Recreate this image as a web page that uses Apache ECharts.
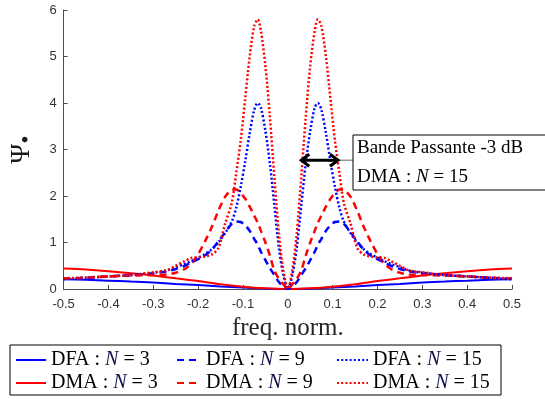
<!DOCTYPE html>
<html>
<head>
<meta charset="utf-8">
<script src="https://cdn.jsdelivr.net/npm/echarts@6/dist/echarts.min.js"></script>
<style>
  html, body { margin: 0; padding: 0; background: #fff; }
  #chart { width: 545px; height: 399px; }
</style>
</head>
<body>
<div id="chart"></div>
<script>
// positive half of the (symmetric) spectra
const freq = [0, 0.01, 0.02, 0.03, 0.04, 0.05, 0.06, 0.067, 0.075, 0.085, 0.095, 0.105, 0.115, 0.125,
  0.14, 0.155, 0.17, 0.185, 0.2, 0.215, 0.23, 0.25, 0.27, 0.3, 0.35, 0.4, 0.45, 0.5]
const dma15 = [0, 0.4, 1.2, 2.4, 3.7, 4.8, 5.55, 5.8, 5.65, 5.0, 4.1, 3.2, 2.5, 1.85,
  1.4, 0.88, 0.74, 0.7, 0.68, 0.67, 0.6, 0.5, 0.4, 0.36, 0.3, 0.27, 0.25, 0.23]
const dfa15 = [0, 0.3, 0.9, 1.8, 2.7, 3.4, 3.9, 4.0, 3.85, 3.35, 2.75, 2.2, 1.75, 1.45,
  1.2, 1.0, 0.85, 0.75, 0.67, 0.6, 0.54, 0.47, 0.4, 0.35, 0.3, 0.27, 0.24, 0.21]
const dma9 = [0, 0.1, 0.22, 0.4, 0.72, 1.0, 1.25, 1.42, 1.58, 1.77, 1.94, 2.06, 2.14, 2.13,
  1.98, 1.68, 1.32, 1.02, 0.75, 0.55, 0.43, 0.35, 0.31, 0.3, 0.29, 0.27, 0.24, 0.22]
const dfa9 = [0, 0.05, 0.15, 0.3, 0.45, 0.62, 0.8, 0.95, 1.08, 1.25, 1.37, 1.44, 1.45, 1.4,
  1.22, 1.02, 0.84, 0.72, 0.64, 0.57, 0.5, 0.43, 0.38, 0.34, 0.3, 0.27, 0.24, 0.22]

const solidFreq = [0, 0.05, 0.1, 0.15, 0.2, 0.25, 0.3, 0.35, 0.4, 0.45, 0.5]
const dma3 = [0, 0.015, 0.05, 0.1, 0.17, 0.23, 0.29, 0.34, 0.38, 0.42, 0.44]
const dfa3 = [0, 0.008, 0.03, 0.055, 0.085, 0.11, 0.14, 0.16, 0.18, 0.2, 0.21]

// -3 dB bandwidth annotation (DMA N=15)
const bandFreq = [0.03, 0.112]
const bandLevel = 2.77
const bandText = ['Bande Passante -3 dB', 'DMA : N = 15']

const xTicks = { min: -0.5, max: 0.5, interval: 0.1 }
const yTicks = { min: 0, max: 6, interval: 1 }

const BLUE = '#0000ff'
const RED = '#ff0000'
const SERIF = '"Liberation Serif", "DejaVu Serif", serif'

// mirror the half spectrum around 0
const mirror = (fs, vs) => {
  const out = []
  for (let i = fs.length - 1; i > 0; i--) out.push([-fs[i], vs[i]])
  fs.forEach((f, i) => out.push([f, vs[i]]))
  return out
}

const seriesDefs = [
  { name: 'DFA : N = 3', color: BLUE, type: 'solid', data: mirror(solidFreq, dfa3) },
  { name: 'DMA : N = 3', color: RED, type: 'solid', data: mirror(solidFreq, dma3) },
  { name: 'DFA : N = 9', color: BLUE, type: [7, 5], data: mirror(freq, dfa9) },
  { name: 'DMA : N = 9', color: RED, type: [7, 5], data: mirror(freq, dma9) },
  { name: 'DFA : N = 15', color: BLUE, type: [2, 2.2], data: mirror(freq, dfa15) },
  { name: 'DMA : N = 15', color: RED, type: [2, 2.2], data: mirror(freq, dma15) }
]

const legendFormat = (name) => {
  const parts = name.split(' N ')
  return parts[0] + ' {n|N} ' + parts[1]
}

const legendCol = (left, width, names) => ({
  orient: 'vertical',
  left: left,
  top: 350,
  padding: 0,
  itemGap: 3,
  itemWidth: width,
  itemHeight: 14,
  selectedMode: false,
  itemStyle: { opacity: 0 },
  data: names,
  formatter: legendFormat,
  textStyle: {
    fontFamily: SERIF,
    fontSize: 20,
    color: '#000',
    lineHeight: 20,
    rich: {
      n: { fontFamily: SERIF, fontSize: 20, fontStyle: 'italic', color: '#10104a', lineHeight: 20 }
    }
  }
})

const tickFmt = (v) => (Math.abs(v) < 1e-9 ? '0' : Number(v).toFixed(1).replace(/\.0$/, ''))

const chart = echarts.init(document.getElementById('chart'), null, { renderer: 'canvas' })

const option = {
  animation: false,
  backgroundColor: '#fff',
  grid: { left: 55, right: 33, top: 10, bottom: 110 },
  xAxis: {
    type: 'value',
    min: xTicks.min,
    max: xTicks.max,
    interval: xTicks.interval,
    name: 'freq. norm.',
    nameLocation: 'middle',
    nameGap: 26,
    nameTextStyle: { fontFamily: SERIF, fontSize: 25, color: '#262626' },
    axisLine: { onZero: false, lineStyle: { color: '#4d4d4d', width: 1 } },
    axisTick: { inside: true, length: 4, lineStyle: { color: '#4d4d4d' } },
    axisLabel: {
      margin: 9,
      color: '#333',
      fontFamily: '"Liberation Sans", Arial, sans-serif',
      fontSize: 13,
      formatter: (v) => (Math.abs(v) < 1e-9 ? '0' : Number(v).toFixed(1))
    },
    splitLine: { show: false }
  },
  yAxis: {
    type: 'value',
    min: yTicks.min,
    max: yTicks.max,
    interval: yTicks.interval,
    name: '{p|Ψ}{b|•}',
    nameLocation: 'middle',
    nameGap: 24,
    nameRotate: 90,
    nameTextStyle: {
      color: '#262626',
      rich: {
        p: { fontFamily: SERIF, fontSize: 27, color: '#1a1a1a', lineHeight: 27 },
        b: { fontFamily: SERIF, fontSize: 24, color: '#1a1a1a', padding: [10, 0, 0, 0] }
      }
    },
    axisLine: { show: true, onZero: false, lineStyle: { color: '#4d4d4d', width: 1 } },
    axisTick: { show: true, inside: true, length: 4, lineStyle: { color: '#4d4d4d' } },
    axisLabel: {
      margin: 7,
      color: '#333',
      fontFamily: '"Liberation Sans", Arial, sans-serif',
      fontSize: 13,
      formatter: tickFmt
    },
    splitLine: { show: false }
  },
  legend: [
    legendCol(15, 30, ['DFA : N = 3', 'DMA : N = 3']),
    legendCol(176, 24, ['DFA : N = 9', 'DMA : N = 9']),
    legendCol(336, 31, ['DFA : N = 15', 'DMA : N = 15'])
  ],
  series: seriesDefs.map((s) => ({
    name: s.name,
    type: 'line',
    data: s.data,
    smooth: 0.3,
    symbol: 'none',
    color: s.color,
    lineStyle: { color: s.color, width: s.type === 'solid' ? 2 : 2.5, type: s.type }
  }))
}

chart.setOption(option)

// annotation: double arrow at the -3 dB level, pointer line and text box
const pL = chart.convertToPixel({ gridIndex: 0 }, [bandFreq[0], bandLevel])
const pR = chart.convertToPixel({ gridIndex: 0 }, [bandFreq[1], bandLevel])
const boxLeft = 353
const boxTop = 135
const head = 8

chart.setOption({
  graphic: [
    {
      type: 'line',
      shape: { x1: pR[0], y1: pR[1], x2: boxLeft, y2: pR[1] },
      style: { stroke: '#666', lineWidth: 1 },
      z: 100
    },
    {
      type: 'line',
      shape: { x1: pL[0], y1: pL[1], x2: pR[0], y2: pR[1] },
      style: { stroke: '#000', lineWidth: 3 },
      z: 100
    },
    {
      type: 'polyline',
      shape: { points: [[pL[0] + head, pL[1] - head * 0.75], [pL[0], pL[1]], [pL[0] + head, pL[1] + head * 0.75]] },
      style: { stroke: '#000', lineWidth: 3, fill: null },
      z: 100
    },
    {
      type: 'polyline',
      shape: { points: [[pR[0] - head, pR[1] - head * 0.75], [pR[0], pR[1]], [pR[0] - head, pR[1] + head * 0.75]] },
      style: { stroke: '#000', lineWidth: 3, fill: null },
      z: 100
    },
    {
      type: 'rect',
      shape: { x: boxLeft, y: boxTop, width: 200, height: 55 },
      style: { fill: '#fff', stroke: '#000', lineWidth: 1 },
      z: 100
    },
    {
      type: 'text',
      x: boxLeft + 4,
      y: boxTop + 13,
      style: {
        text: bandText[0],
        font: '19px ' + SERIF,
        fill: '#000',
        verticalAlign: 'middle'
      },
      z: 101
    },
    {
      type: 'text',
      x: boxLeft + 4,
      y: boxTop + 42,
      style: {
        text: 'DMA : {n|N} = 15',
        font: '19px ' + SERIF,
        fill: '#000',
        verticalAlign: 'middle',
        rich: { n: { font: 'italic 19px ' + SERIF, fill: '#000' } }
      },
      z: 101
    },
    {
      type: 'rect',
      shape: { x: 10, y: 345, width: 491, height: 50 },
      style: { fill: null, stroke: '#000', lineWidth: 1 },
      z: 100
    }
  ]
})
</script>
</body>
</html>
